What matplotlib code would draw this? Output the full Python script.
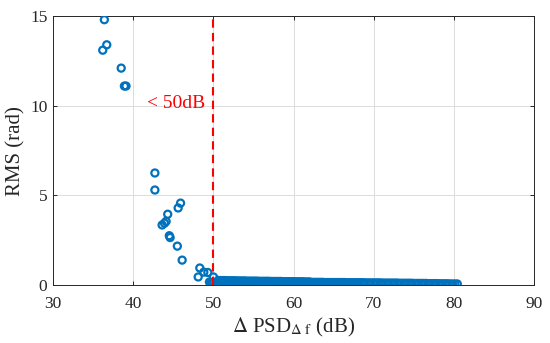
import matplotlib.pyplot as plt

plt.rcParams['font.family'] = ['Liberation Serif', 'DejaVu Serif']
plt.rcParams['mathtext.fontset'] = 'stix'

# scattered points above the floor
psd = [36.4, 36.2, 36.7, 38.5, 38.9, 39.1, 42.7, 42.7, 45.9, 45.6, 44.3, 44.1,
       43.9, 43.6, 44.5, 44.6, 45.5, 46.1, 48.3, 48.1, 48.8, 49.3, 50.0, 50.6,
       49.5, 49.9]
rms = [14.8, 13.1, 13.4, 12.1, 11.1, 11.1, 6.25, 5.3, 4.57, 4.3, 3.95, 3.55,
       3.45, 3.35, 2.75, 2.65, 2.17, 1.39, 0.95, 0.45, 0.72, 0.7, 0.45, 0.2,
       0.17, 0.15]

# dense floor, upper row
floor_a_x = [50.6, 50.9, 51.2, 51.5, 51.8, 52.1, 52.4, 52.7, 53.0, 53.3, 53.6,
             53.9, 54.2, 54.5, 54.8, 55.1, 55.4, 55.7, 56.0, 56.3, 56.6, 56.9,
             57.2, 57.5, 57.8, 58.1, 58.4, 58.7, 59.0, 59.3, 59.6, 59.9, 60.2,
             60.5, 60.8, 61.1, 61.4, 61.7, 62.0]
floor_a_y = [0.26, 0.25, 0.25, 0.25, 0.24, 0.24, 0.24, 0.24, 0.23, 0.23, 0.23,
             0.23, 0.22, 0.22, 0.22, 0.22, 0.22, 0.21, 0.21, 0.21, 0.21, 0.21,
             0.2, 0.2, 0.2, 0.2, 0.2, 0.19, 0.19, 0.19, 0.19, 0.19, 0.18,
             0.18, 0.18, 0.18, 0.17, 0.17, 0.17]

# dense floor, lower row
floor_b_x = [49.7, 50.0, 50.3, 50.6, 50.9, 51.2, 51.5, 51.8, 52.1, 52.4, 52.7,
             53.0, 53.3, 53.6, 53.9, 54.2, 54.5, 54.8, 55.1, 55.4, 55.7, 56.0,
             56.3, 56.6, 56.9, 57.2, 57.5, 57.8, 58.1, 58.4, 58.7, 59.0, 59.3,
             59.6, 59.9, 60.2, 60.5, 60.8, 61.1, 61.4, 61.7, 62.0, 62.3, 62.6,
             62.9, 63.2, 63.5, 63.8, 64.1, 64.4, 64.7, 65.0, 65.3, 65.6, 65.9,
             66.2, 66.5, 66.8, 67.1, 67.4, 67.7, 68.0]
floor_b_y = [0.12, 0.11, 0.11, 0.1, 0.1, 0.1, 0.1, 0.1, 0.1, 0.1, 0.09,
             0.09, 0.09, 0.09, 0.09, 0.09, 0.09, 0.09, 0.08, 0.08, 0.08, 0.08,
             0.08, 0.08, 0.08, 0.08, 0.08, 0.07, 0.07, 0.07, 0.07, 0.07, 0.07,
             0.07, 0.07, 0.07, 0.07, 0.06, 0.06, 0.06, 0.06, 0.06, 0.06, 0.06,
             0.06, 0.06, 0.06, 0.06, 0.06, 0.05, 0.05, 0.05, 0.05, 0.05, 0.05,
             0.05, 0.05, 0.05, 0.05, 0.05, 0.05, 0.05]

# dense floor, tail towards 80 dB
floor_c_x = [60.0, 60.3, 60.6, 60.9, 61.2, 61.5, 61.8, 62.1, 62.4, 62.7, 63.0,
             63.3, 63.6, 63.9, 64.2, 64.5, 64.8, 65.1, 65.4, 65.7, 66.0, 66.3,
             66.6, 66.9, 67.2, 67.5, 67.8, 68.1, 68.4, 68.7, 69.0, 69.3, 69.6,
             69.9, 70.2, 70.5, 70.8, 71.1, 71.4, 71.7, 72.0, 72.3, 72.6, 72.9,
             73.2, 73.5, 73.8, 74.1, 74.4, 74.7, 75.0, 75.3, 75.6, 75.9, 76.2,
             76.5, 76.8, 77.1, 77.4, 77.7, 78.0, 78.3, 78.6, 78.9, 79.2, 79.5,
             79.8, 80.1, 80.4]
floor_c_y = [0.16, 0.16, 0.16, 0.16, 0.16, 0.15, 0.15, 0.15, 0.15, 0.15, 0.15,
             0.15, 0.15, 0.14, 0.14, 0.14, 0.14, 0.14, 0.14, 0.14, 0.14, 0.14,
             0.13, 0.13, 0.13, 0.13, 0.13, 0.13, 0.13, 0.13, 0.12, 0.12, 0.12,
             0.12, 0.12, 0.12, 0.12, 0.11, 0.11, 0.11, 0.11, 0.11, 0.11, 0.11,
             0.1, 0.1, 0.1, 0.1, 0.1, 0.1, 0.09, 0.09, 0.09, 0.09, 0.09,
             0.09, 0.08, 0.08, 0.08, 0.08, 0.08, 0.07, 0.07, 0.07, 0.07, 0.06,
             0.06, 0.06, 0.06]

threshold = 50

fig = plt.figure(figsize=(5.5, 3.43), dpi=100)
ax = fig.add_axes([0.0964, 0.169, 0.875, 0.784])

blue = '#0072BD'
for xs, ys in [(floor_b_x, floor_b_y), (floor_c_x, floor_c_y),
               (floor_a_x, floor_a_y), (psd, rms)]:
    ax.scatter(xs, ys, s=26, facecolors='none', edgecolors=blue,
               linewidths=1.6, zorder=3)

ax.axvline(threshold, color='red', linestyle='--', linewidth=1.5,
           dashes=(4, 2.5), zorder=4)
ax.text(45.4, 10.1, '< 50dB', color='red', fontsize=14,
        ha='center', va='center')

ax.set_xlim(30, 90)
ax.set_ylim(0, 15)
ax.set_xticks([30, 40, 50, 60, 70, 80, 90])
ax.set_yticks([0, 5, 10, 15])
ax.grid(True, color='#dcdcdc', linewidth=0.7)
ax.set_axisbelow(True)
ax.tick_params(direction='in', length=3, top=True, right=True,
               labelsize=12.5, colors='#262626', width=0.7)
ax.tick_params(axis='x', pad=8)
ax.tick_params(axis='y', pad=4)
for sp in ax.spines.values():
    sp.set_color('#262626')
    sp.set_linewidth(0.7)

ax.set_xlabel(r'$\Delta$ PSD$_{\Delta\ \mathrm{f}}$ (dB)', fontsize=15,
              color='#262626', labelpad=3)
ax.set_ylabel('RMS (rad)', fontsize=15, color='#262626', labelpad=3)

fig.savefig('out.png', dpi=100)
